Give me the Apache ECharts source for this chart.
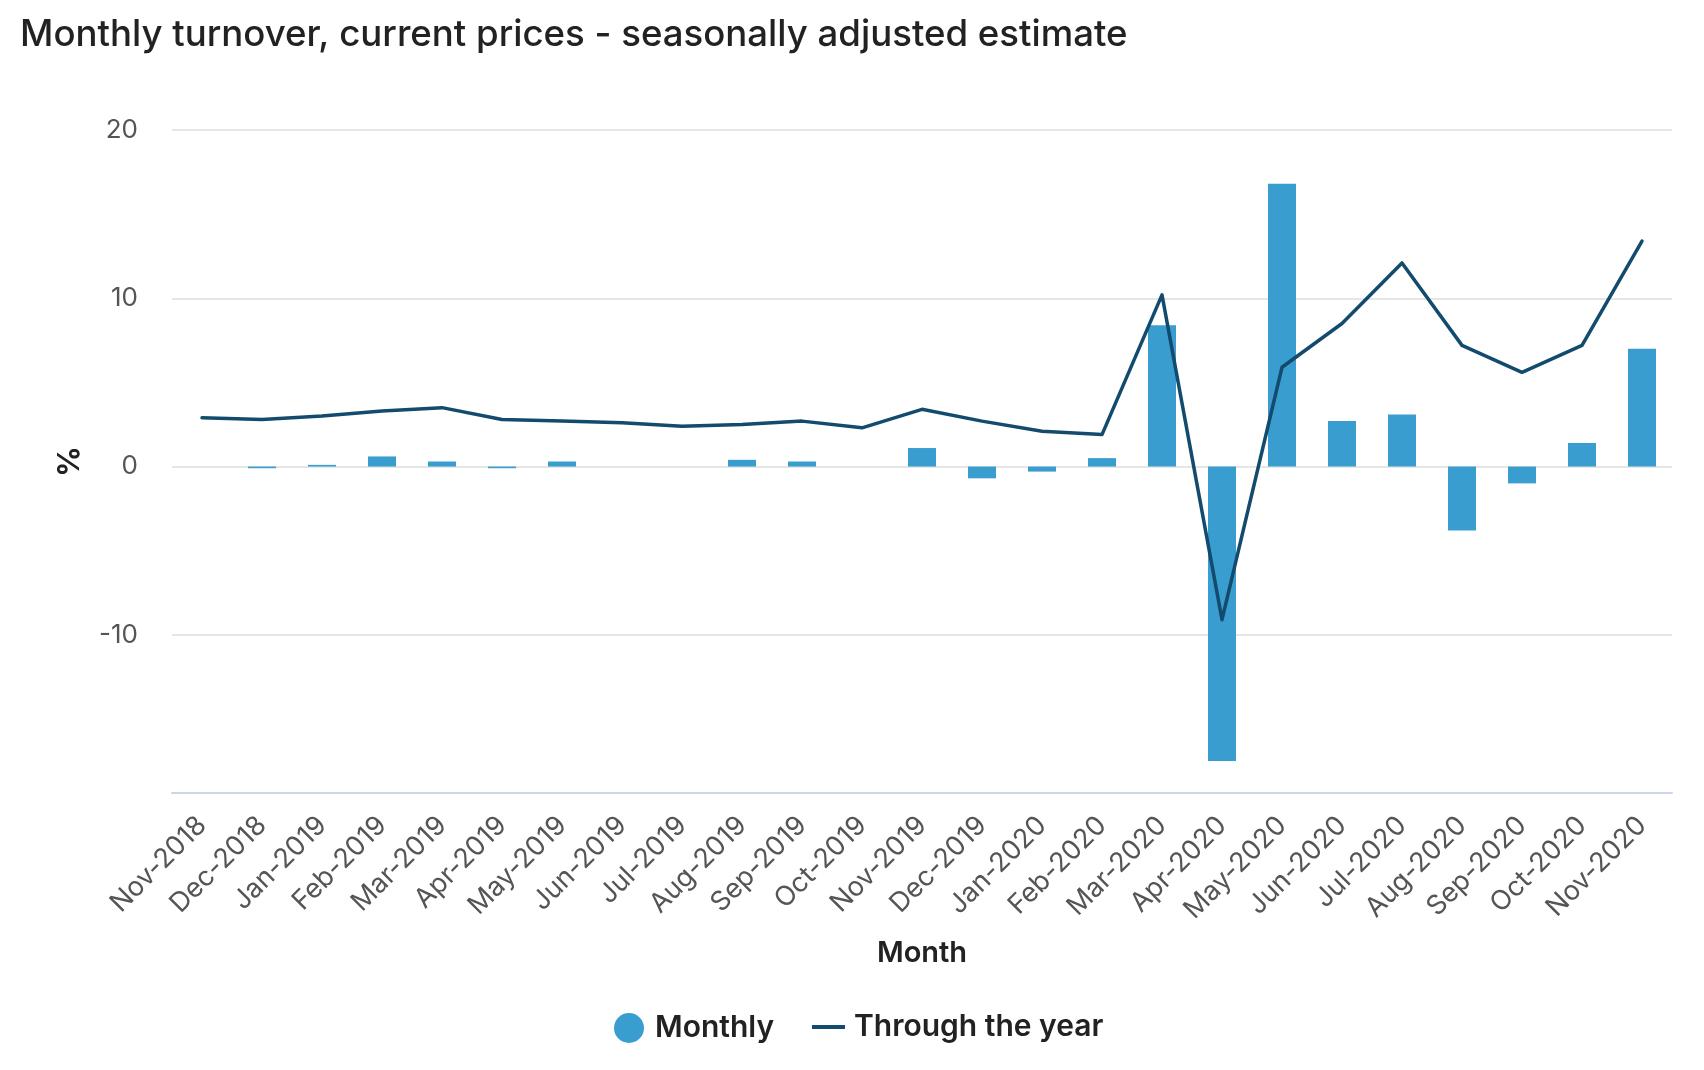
<!DOCTYPE html>
<html>
<head>
<meta charset="utf-8">
<script src="https://cdn.jsdelivr.net/npm/echarts@6/dist/echarts.min.js"></script>
<style>
html,body{margin:0;padding:0;background:#fff;}
#chart{width:1704px;height:1070px;}
</style>
</head>
<body>
<div id="chart"></div>
<script>
const categories = ['Nov-2018','Dec-2018','Jan-2019','Feb-2019','Mar-2019','Apr-2019','May-2019','Jun-2019','Jul-2019','Aug-2019','Sep-2019','Oct-2019','Nov-2019','Dec-2019','Jan-2020','Feb-2020','Mar-2020','Apr-2020','May-2020','Jun-2020','Jul-2020','Aug-2020','Sep-2020','Oct-2020','Nov-2020'];
const monthly = [0, -0.1, 0.1, 0.6, 0.3, -0.1, 0.3, 0, 0, 0.4, 0.3, 0, 1.1, -0.7, -0.3, 0.5, 8.4, -17.5, 16.8, 2.7, 3.1, -3.8, -1.0, 1.4, 7.0];
const throughTheYear = [2.9, 2.8, 3.0, 3.3, 3.5, 2.8, 2.7, 2.6, 2.4, 2.5, 2.7, 2.3, 3.4, 2.7, 2.1, 1.9, 10.2, -9.1, 5.9, 8.5, 12.1, 7.2, 5.6, 7.2, 13.4];
const yTicks = [-10, 0, 10, 20];

const FONT = 'Inter, "Noto Sans", sans-serif';
const chart = echarts.init(document.getElementById('chart'));
chart.setOption({
  animation: false,
  textStyle: { fontFamily: FONT },
  title: {
    text: 'Monthly turnover, current prices - seasonally adjusted estimate',
    left: 15, top: 11,
    textStyle: { fontFamily: FONT, fontSize: 36.6, fontWeight: 500, color: '#222' }
  },
  legend: [
    {
      data: ['Monthly'], left: 609, top: 1008,
      icon: 'circle', itemWidth: 30, itemHeight: 30,
      textStyle: { fontFamily: FONT, fontSize: 30, fontWeight: 600, color: '#222', padding: [0, 0, 0, 6] }
    },
    {
      data: ['Through the year'], left: 807, top: 1006,
      icon: 'rect', itemWidth: 33, itemHeight: 4,
      textStyle: { fontFamily: FONT, fontSize: 30, fontWeight: 600, color: '#222', lineHeight: 32, padding: [0, 0, 0, 4] }
    }
  ],
  grid: { left: 172, right: 32, top: 130, bottom: 277, containLabel: false },
  xAxis: {
    type: 'category',
    data: categories,
    boundaryGap: true,
    name: 'Month', nameLocation: 'middle', nameGap: 146,
    nameTextStyle: { fontFamily: FONT, fontSize: 29, fontWeight: 600, color: '#222' },
    axisLine: { onZero: false, lineStyle: { color: '#ccd6eb', width: 2 } },
    axisTick: { show: false },
    axisLabel: { rotate: 45, interval: 0, margin: 28, fontFamily: FONT, fontSize: 27, color: '#555' },
    splitLine: { show: false }
  },
  yAxis: {
    type: 'value',
    min: -19.4, max: 20,
    name: '%', nameLocation: 'middle', nameGap: 87,
    nameTextStyle: { fontFamily: FONT, fontSize: 30, fontWeight: 700, color: '#222' },
    axisLine: { show: false },
    axisTick: { show: false, customValues: yTicks },
    axisLabel: { customValues: yTicks, margin: 34, fontFamily: FONT, fontSize: 26, color: '#555' },
    splitLine: { show: true, lineStyle: { color: '#e6e6e6', width: 2 } }
  },
  series: [
    {
      name: 'Monthly', type: 'bar', data: monthly, barWidth: 28,
      itemStyle: { color: '#3a9dcf' }, z: 2
    },
    {
      name: 'Through the year', type: 'line', data: throughTheYear,
      showSymbol: false, symbol: 'none',
      lineStyle: { color: '#134b6e', width: 3.5, join: 'round', cap: 'round' },
      itemStyle: { color: '#134b6e' }, z: 3
    }
  ]
});
</script>
</body>
</html>
